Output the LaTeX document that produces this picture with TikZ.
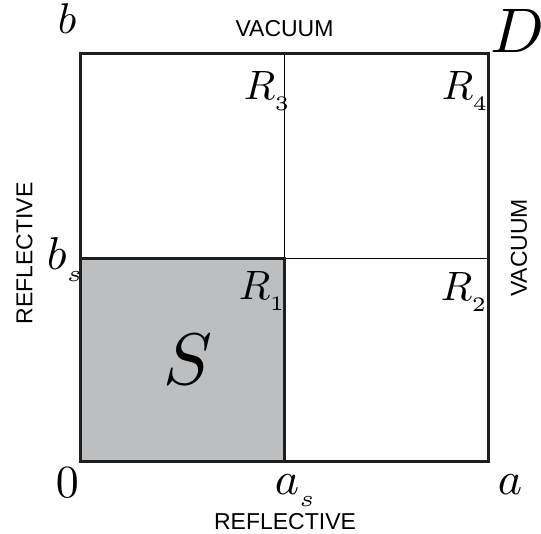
\documentclass[tikz,border=0pt]{standalone}
\usepackage{fontspec}
\newfontfamily\labsf{Liberation Sans}
\newcommand{\lowsub}[2]{_{\raisebox{-#1}{$\scriptscriptstyle #2$}}}
\begin{document}
\begin{tikzpicture}[x=1pt,y=-1pt,
  thick border/.style={line width=3pt,draw=black!88},
  thin border/.style={line width=1pt,draw=black},
  mlab/.style={inner sep=0pt,scale=4.6,anchor=base west},
  rlab/.style={inner sep=0pt,scale=4.1,anchor=base west},
  wlab/.style={inner sep=0pt,font=\labsf\fontsize{23}{23}\selectfont}]
\useasboundingbox (0,0) rectangle (541,534);
% corners
\coordinate (O) at (80,462);
\coordinate (C) at (488,54);
\coordinate (M) at (284,259);
\coordinate (Mt) at (284,54);
\coordinate (Mr) at (488,259);
% gray source region
\fill[fill={rgb,255:red,188;green,190;blue,192}] (O) rectangle (M);
% thin dividers
\draw[thin border] (M) -- (Mt);
\draw[thin border] (M) -- (Mr);
% source border
\draw[thick border] (O) rectangle (M);
% outer border
\draw[thick border] (O) rectangle (C);
% labels
\node[inner sep=0pt,scale=4.3,anchor=base west] (lb) at (57,34) {$b$};
\node[inner sep=0pt,scale=6.3,anchor=base west] (lD) at (489,53) {$D$};
\node[wlab] (vtop) at (284.5,29) {VACUUM};
\node[wlab,rotate=90] (rleft) at (24.5,253.5) {REFLECTIVE};
\node[wlab,rotate=90] (vright) at (519,248) {VACUUM};
\node[mlab] (lbs) at (46,270) {$b\lowsub{0.9pt}{s}$};
\node[rlab] (r3) at (243,100) {$R\lowsub{1pt}{3}$};
\node[rlab] (r4) at (441,100) {$R\lowsub{1pt}{4}$};
\node[rlab] (r1) at (238,300) {$R\lowsub{1pt}{1}$};
\node[rlab] (r2) at (440,301) {$R\lowsub{1pt}{2}$};
\node[inner sep=0pt,scale=7.3] (lS) at (187.5,360) {$S$};
\node[mlab] (l0) at (55,497) {$0$};
\node[mlab] (las) at (274,494) {$a\lowsub{1.2pt}{s}$};
\node[mlab] (la) at (497,494) {$a$};
\node[wlab] (rbot) at (285,522) {REFLECTIVE};
\end{tikzpicture}
\end{document}
